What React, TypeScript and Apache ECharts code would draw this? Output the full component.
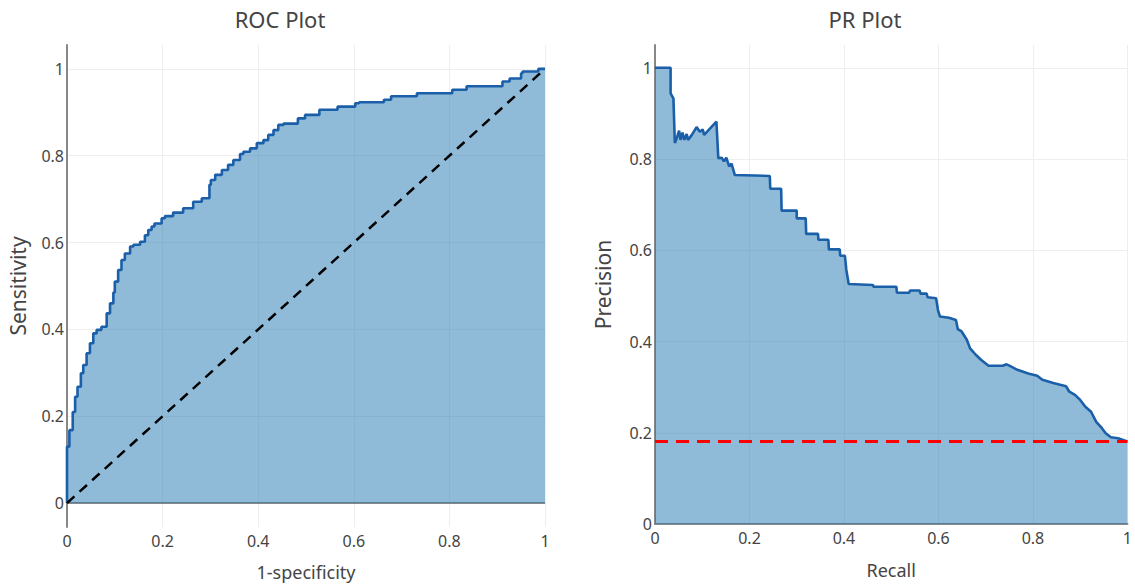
import React, { useEffect, useRef } from "react";
import * as echarts from "echarts";

// ROC curve (1-specificity, sensitivity)
const rocFpr = [0, 0.005, 0.012, 0.017, 0.022, 0.029, 0.034, 0.041, 0.048, 0.055, 0.062, 0.072, 0.083, 0.09, 0.097, 0.1, 0.107, 0.114, 0.121, 0.132, 0.139, 0.153, 0.163, 0.17, 0.177, 0.183, 0.198, 0.205, 0.222, 0.243, 0.264, 0.282, 0.298, 0.301, 0.31, 0.324, 0.337, 0.348, 0.362, 0.369, 0.383, 0.397, 0.411, 0.421, 0.432, 0.442, 0.453, 0.483, 0.498, 0.528, 0.566, 0.603, 0.611, 0.663, 0.678, 0.732, 0.806, 0.836, 0.911, 0.926, 0.95, 0.953, 0.986, 1];
const rocTpr = [0, 0.13, 0.168, 0.21, 0.245, 0.268, 0.299, 0.318, 0.345, 0.368, 0.391, 0.399, 0.406, 0.437, 0.46, 0.485, 0.51, 0.537, 0.56, 0.575, 0.591, 0.595, 0.602, 0.617, 0.629, 0.637, 0.644, 0.656, 0.661, 0.669, 0.679, 0.694, 0.702, 0.733, 0.744, 0.756, 0.767, 0.779, 0.79, 0.804, 0.809, 0.817, 0.829, 0.836, 0.848, 0.859, 0.871, 0.874, 0.886, 0.894, 0.906, 0.913, 0.921, 0.923, 0.929, 0.937, 0.944, 0.952, 0.96, 0.971, 0.978, 0.99, 0.994, 1];

// chance diagonal
const diagX = [0, 1];
const diagY = [0, 1];

// PR curve (recall, precision)
const prRecall = [0, 0.033, 0.033, 0.039, 0.042, 0.047, 0.051, 0.054, 0.058, 0.062, 0.067, 0.07, 0.078, 0.088, 0.095, 0.101, 0.104, 0.13, 0.134, 0.141, 0.146, 0.151, 0.157, 0.162, 0.169, 0.243, 0.244, 0.267, 0.268, 0.3, 0.3, 0.319, 0.32, 0.345, 0.346, 0.367, 0.368, 0.391, 0.392, 0.402, 0.405, 0.41, 0.461, 0.463, 0.511, 0.512, 0.538, 0.54, 0.56, 0.562, 0.575, 0.577, 0.595, 0.599, 0.603, 0.622, 0.637, 0.641, 0.649, 0.66, 0.667, 0.679, 0.69, 0.706, 0.736, 0.744, 0.75, 0.767, 0.79, 0.809, 0.82, 0.843, 0.87, 0.877, 0.889, 0.9, 0.911, 0.923, 0.934, 0.946, 0.954, 0.965, 0.98, 1];
const prPrecision = [1, 1, 0.944, 0.933, 0.835, 0.849, 0.862, 0.842, 0.858, 0.842, 0.855, 0.842, 0.853, 0.87, 0.86, 0.865, 0.853, 0.882, 0.802, 0.803, 0.795, 0.803, 0.784, 0.79, 0.765, 0.763, 0.735, 0.735, 0.687, 0.687, 0.67, 0.67, 0.636, 0.636, 0.623, 0.623, 0.602, 0.602, 0.588, 0.588, 0.557, 0.526, 0.524, 0.52, 0.52, 0.507, 0.507, 0.512, 0.512, 0.505, 0.505, 0.497, 0.495, 0.469, 0.455, 0.452, 0.447, 0.427, 0.422, 0.404, 0.385, 0.371, 0.36, 0.347, 0.347, 0.35, 0.347, 0.338, 0.33, 0.325, 0.316, 0.309, 0.302, 0.29, 0.283, 0.272, 0.257, 0.246, 0.224, 0.21, 0.199, 0.19, 0.188, 0.181];

// baseline (prevalence)
const baseX = [0, 1];
const baseY = [0.181, 0.181];

// zero line of ROC plot
const zeroX = [0, 1];
const zeroY = [0, 0];

const tickValues = [0, 0.2, 0.4, 0.6, 0.8, 1];
const titles = ["ROC Plot", "PR Plot"];
const xNames = ["1-specificity", "Recall"];
const yNames = ["Sensitivity", "Precision"];

const FONT = "Noto Sans";
const TXT = "#444";
const GRID = "#eeeeee";
const ZERO = "#888888";
const LINE = "#1b5fa9";
const FILL = "#1f77b4";

const zip = (a: number[], b: number[]) => a.map((v, i) => [v, b[i]]);
const fmt = (v: number) => String(Math.round(v * 10) / 10);

export default function App() {
  const ref = useRef<HTMLDivElement>(null);
  useEffect(() => {
    if (!ref.current) return;
    const chart = echarts.init(ref.current, null, { renderer: "svg" });
    const labelStyle = { fontFamily: FONT, fontSize: 16, color: TXT };
    const nameStyle = { fontFamily: FONT, fontSize: 18, color: TXT };
    const xAxisBase = {
      type: "value",
      min: 0,
      max: 1,
      interval: 0.2,
      axisTick: { show: false },
      splitLine: { show: true, lineStyle: { color: GRID, width: 1 } },
      axisLabel: { ...labelStyle, margin: 6, formatter: fmt },
      nameLocation: "middle",
      nameTextStyle: nameStyle,
    };
    const yAxisBase = {
      type: "value",
      axisTick: { show: false, customValues: tickValues },
      splitLine: { show: true, lineStyle: { color: GRID, width: 1 } },
      axisLabel: { ...labelStyle, margin: 3, formatter: fmt, customValues: tickValues },
      axisLine: { show: true, onZero: false, lineStyle: { color: ZERO, width: 2 } },
      nameLocation: "middle",
      nameRotate: 90,
      nameTextStyle: { fontFamily: FONT, fontSize: 21, color: TXT },
    };
    chart.setOption({
      animation: false,
      backgroundColor: "#ffffff",
      textStyle: { fontFamily: FONT },
      graphic: [
        { type: "text", x: 280, y: 19, style: { text: titles[0], fill: TXT, fontFamily: FONT, fontSize: 22, align: "center", verticalAlign: "middle", textAlign: "center", textVerticalAlign: "middle" } },
        { type: "text", x: 865, y: 19, style: { text: titles[1], fill: TXT, fontFamily: FONT, fontSize: 22, align: "center", verticalAlign: "middle", textAlign: "center", textVerticalAlign: "middle" } },
      ],
      grid: [
        { left: 67, top: 45, width: 478, height: 482 },
        { left: 655, top: 45, width: 473, height: 479 },
      ],
      xAxis: [
        { ...xAxisBase, gridIndex: 0, name: xNames[0], nameGap: 36, axisLine: { show: false, onZero: false } },
        { ...xAxisBase, gridIndex: 1, name: xNames[1], nameGap: 37, axisLine: { show: true, onZero: false, lineStyle: { color: ZERO, width: 2 } } },
      ],
      yAxis: [
        { ...yAxisBase, gridIndex: 0, min: -0.055, max: 1.055, name: yNames[0], nameGap: 39 },
        { ...yAxisBase, gridIndex: 1, min: 0, max: 1.05, name: yNames[1], nameGap: 42 },
      ],
      series: [
        {
          type: "line",
          xAxisIndex: 0,
          yAxisIndex: 0,
          data: zip(zeroX, zeroY),
          symbol: "none",
          silent: true,
          lineStyle: { color: ZERO, width: 2 },
          z: 1,
        },
        {
          type: "line",
          name: "ROC",
          xAxisIndex: 0,
          yAxisIndex: 0,
          data: zip(rocFpr, rocTpr),
          step: "start",
          symbol: "none",
          lineStyle: { color: LINE, width: 2.6 },
          areaStyle: { color: FILL, opacity: 0.5, origin: "auto" },
          z: 2,
        },
        {
          type: "line",
          name: "Chance",
          xAxisIndex: 0,
          yAxisIndex: 0,
          data: zip(diagX, diagY),
          symbol: "none",
          lineStyle: { color: "#000000", width: 2.5, type: [10, 7] },
          z: 3,
        },
        {
          type: "line",
          name: "PR",
          xAxisIndex: 1,
          yAxisIndex: 1,
          data: zip(prRecall, prPrecision),
          symbol: "none",
          lineStyle: { color: LINE, width: 2.6 },
          areaStyle: { color: FILL, opacity: 0.5, origin: "auto" },
          z: 2,
        },
        {
          type: "line",
          name: "Baseline",
          xAxisIndex: 1,
          yAxisIndex: 1,
          data: zip(baseX, baseY),
          symbol: "none",
          lineStyle: { color: "#ff0000", width: 3, type: [13, 8] },
          z: 3,
        },
      ],
    });
    return () => chart.dispose();
  }, []);
  return (
    <div
      ref={ref}
      style={{ position: "fixed", left: 0, top: 0, width: 1135, height: 587, background: "#fff" }}
    />
  );
}
